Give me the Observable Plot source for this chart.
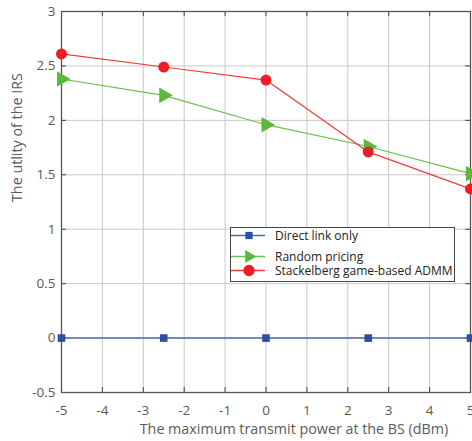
<!DOCTYPE html>
<html><head><meta charset="utf-8">
<script src="https://cdn.jsdelivr.net/npm/d3@7"></script>
<script src="https://cdn.jsdelivr.net/npm/@observablehq/plot@0.6"></script>
<style>
body{margin:0;background:#fff;font-family:"Open Sans",sans-serif;}
#wrap{position:relative;width:472px;height:441px;}
#legend{position:absolute;left:230px;top:227px;width:225px;height:55px;border:1px solid #444;background:#fff;box-sizing:border-box;font-size:12px;line-height:13px;color:#222;}
#legend .row{position:absolute;left:0;height:13px;display:flex;align-items:center;}
#legend svg{display:block}
</style></head>
<body><div id="wrap"><div id="chart"></div><div id="legend"></div></div>
<script>
const xs = [-5, -2.5, 0, 2.5, 5];
const direct = [0, 0, 0, 0, 0];
const randomPricing = [2.38, 2.23, 1.96, 1.76, 1.51];
const stackelberg = [2.61, 2.49, 2.37, 1.71, 1.37];
const xTicks = [-5, -4, -3, -2, -1, 0, 1, 2, 3, 4, 5];
const yTicks = [-0.5, 0, 0.5, 1, 1.5, 2, 2.5, 3];
const seriesNames = ["Direct link only", "Random pricing", "Stackelberg game-based ADMM"];

const mk = (vals, name) => xs.map((x, i) => ({x, y: vals[i], s: name}));
const dDirect = mk(direct, seriesNames[0]);
const dRandom = mk(randomPricing, seriesNames[1]);
const dStack = mk(stackelberg, seriesNames[2]);

const W = 472, H = 441, mL = 61, mR = 2, mT = 11, mB = 49;
const pw = W - mL - mR, ph = H - mT - mB;
const tickLen = 5;

const blue = "#2b4fa3", blueLine = "#4a6cb8", green = "#5cb83a", greenLine = "#6cc04a", red = "#ee1c24", redLine = "#f03a3a";
const fmt = d => String(d);

const chart = Plot.plot({
  width: W, height: H,
  marginLeft: mL, marginRight: mR, marginTop: mT, marginBottom: mB,
  style: {fontFamily: "Open Sans", fontSize: "13px", color: "#555", background: "#fff"},
  x: {domain: [-5, 5], label: null},
  y: {domain: [-0.5, 3], label: null},
  marks: [
    Plot.ruleX(xTicks, {stroke: "#c8c8c8", strokeWidth: 1}),
    Plot.ruleY(yTicks, {stroke: "#c8c8c8", strokeWidth: 1}),
    Plot.ruleX(xTicks, {stroke: "#444", insetTop: ph - tickLen}),
    Plot.ruleX(xTicks, {stroke: "#444", insetBottom: ph - tickLen}),
    Plot.ruleY(yTicks, {stroke: "#444", insetRight: pw - tickLen}),
    Plot.ruleY(yTicks, {stroke: "#444", insetLeft: pw - tickLen}),
    Plot.frame({stroke: "#555", strokeWidth: 1.3}),
    Plot.axisX(xTicks, {tickSize: 0, tickPadding: 13, fill: "#5a5a5a", fontSize: 13.5, tickFormat: fmt}),
    Plot.axisY(yTicks, {tickSize: 0, tickPadding: 6, fill: "#5a5a5a", fontSize: 13.5, tickFormat: fmt}),
    Plot.text(["The maximum transmit power at the BS (dBm)"], {frameAnchor: "bottom", dy: 41, fill: "#5a5a5a", fontSize: 14.3, dx: 28}),
    Plot.text(["The utlity of the IRS"], {frameAnchor: "left", rotate: -90, dx: -44, fill: "#5a5a5a", fontSize: 14.3}),
    Plot.line(dDirect, {x: "x", y: "y", stroke: blueLine, strokeWidth: 1.5}),
    Plot.line(dRandom, {x: "x", y: "y", stroke: greenLine, strokeWidth: 1.2}),
    Plot.line(dStack, {x: "x", y: "y", stroke: redLine, strokeWidth: 1.2}),
    Plot.dot(dDirect, {x: "x", y: "y", symbol: "square", r: 4.3, fill: blue, stroke: "none"}),
    Plot.dot(dRandom, {x: "x", y: "y", symbol: "triangle", r: 5.8, rotate: 90, fill: green, stroke: "none"}),
    Plot.dot(dStack, {x: "x", y: "y", symbol: "circle", r: 5.5, fill: red, stroke: "none"})
  ]
});
chart.style.overflow = "visible";
document.getElementById("chart").append(chart);

// legend
const leg = document.getElementById("legend");
const legendItems = [
  {name: seriesNames[0], color: blueLine, fill: blue, sym: "square", top: 1},
  {name: seriesNames[1], color: greenLine, fill: green, sym: "triangle", top: 22},
  {name: seriesNames[2], color: redLine, fill: red, sym: "circle", top: 36}
];
for (const it of legendItems) {
  const row = document.createElement("div");
  row.className = "row";
  row.style.top = it.top + "px";
  const s = d3.create("svg").attr("width", 44).attr("height", 13).style("overflow", "visible");
  s.append("line").attr("x1", 0).attr("x2", 34).attr("y1", 6.5).attr("y2", 6.5).attr("stroke", it.color).attr("stroke-width", 1.3);
  const sym = it.sym === "square" ? d3.symbolSquare : it.sym === "triangle" ? d3.symbolTriangle : d3.symbolCircle;
  const size = it.sym === "square" ? 52 : it.sym === "triangle" ? 75 : 100;
  s.append("path").attr("d", d3.symbol(sym, size)()).attr("fill", it.fill)
    .attr("transform", `translate(18,6.5)${it.sym === "triangle" ? " rotate(90)" : ""}`);
  row.append(s.node());
  const t = document.createElement("span");
  t.textContent = it.name;
  row.append(t);
  leg.append(row);
}
</script></body></html>
